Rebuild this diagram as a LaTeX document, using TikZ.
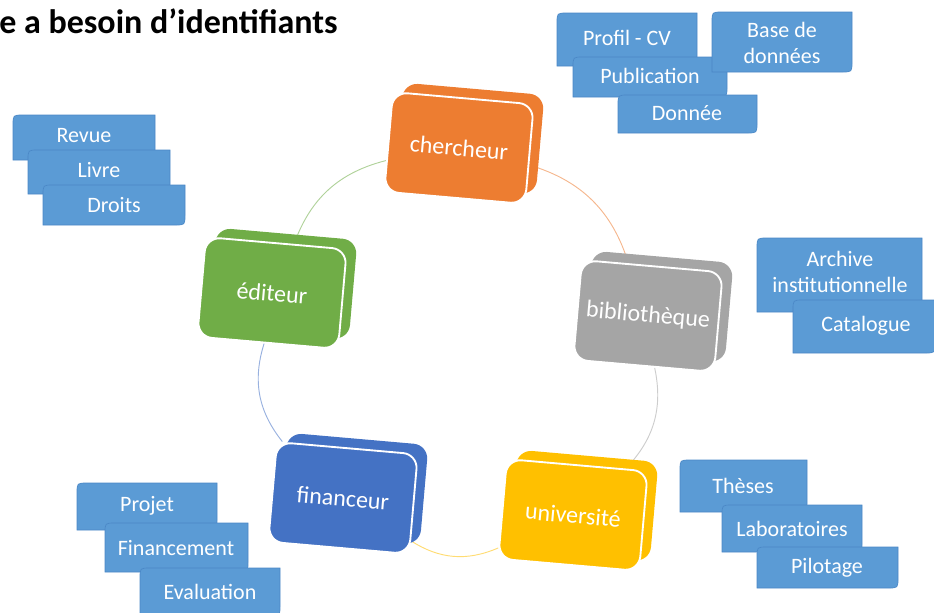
\documentclass[tikz,border=0pt]{standalone}
\usepackage{fontspec}
\setmainfont{Carlito}
\usetikzlibrary{shadows,backgrounds}
\definecolor{cOrange}{HTML}{ED7D31}
\definecolor{cGray}{HTML}{A5A5A5}
\definecolor{cGold}{HTML}{FFC000}
\definecolor{cBlue}{HTML}{4472C4}
\definecolor{cGreen}{HTML}{70AD47}
\definecolor{cLbl}{HTML}{5B9BD5}
\definecolor{cLblEdge}{HTML}{4A87C6}
\begin{document}
\begin{tikzpicture}[x=0.75pt,y=-0.75pt,
  mainbox/.style={rectangle, rounded corners=11pt, fill=#1, draw=white, line width=1.4pt,
    minimum width=106pt, minimum height=75pt, inner sep=0pt, rotate=-5, text=white,
    font=\fontsize{18}{20}\selectfont,
    copy shadow={shadow xshift=8pt, shadow yshift=7pt, fill=#1, draw=none}},
  ring/.style={line width=0.7pt, draw=#1!55, bend left=28},
  lblshape/.style={fill=cLbl, draw=cLblEdge, line width=0.5pt},
  lbltext/.style={text=white, font=\fontsize{16.5}{19}\selectfont, align=center, inner sep=0pt}
]
\useasboundingbox (0,0) rectangle (934,612);
\clip (0,0) rectangle (934,612);

\node[anchor=base west, inner sep=0pt, font=\bfseries\fontsize{25.5}{28}\selectfont] (title) at (-1,33) {e a besoin d’identifiants};

% main boxes
\node[mainbox=cOrange] (chercheur) at (459,148) {chercheur};
\node[mainbox=cGray] (biblio) at (648,316) {bibliothèque};
\node[mainbox=cGold] (univ) at (573,515) {université};
\node[mainbox=cBlue] (financeur) at (343,498) {financeur};
\node[mainbox=cGreen] (editeur) at (272,293) {éditeur};

% ring connectors
\begin{scope}[on background layer]
  \draw[ring=cOrange] (chercheur) to (biblio);
  \draw[ring=cGray] (biblio) to (univ);
  \draw[ring=cGold] (univ) to (financeur);
  \draw[ring=cBlue] (financeur) to (editeur);
  \draw[ring=cGreen] (editeur) to (chercheur);
\end{scope}

% labels
\foreach \nm/\xa/\ya/\xb/\yb/\tx/\ty/\t in {
  revue/13/115/155/160/84/136/Revue,
  livre/28/150/170/194/99/170/Livre,
  droits/43/185/185/225/114/205/Droits,
  profil/557/13/697/66/627/38/Profil - CV,
  publication/573/57/727/97/650/76/Publication,
  donnee/618/95/757/133/687/113/Donnée,
  base/712/12/852/72/782/43/{Base de\\données},
  archive/757/238/922/312/840/272/{Archive\\institutionnelle},
  catalogue/793/300/935/353/866/326/Catalogue,
  projet/77/483/217/530/147/506/Projet,
  financement/105/523/248/572/176/548/Financement,
  evaluation/140/568/280/616/210/592/Evaluation,
  theses/680/460/807/512/743/486/Thèses,
  labo/722/505/862/552/792/529/Laboratoires,
  pilotage/757/547/898/588/827/568/Pilotage}
{
  \path[lblshape] (\xa,\yb) -- (\xa,\ya+10) .. controls (\xa,\ya) .. (\xa+10,\ya)
    -- (\xb,\ya) -- (\xb,\yb-10) .. controls (\xb,\yb) .. (\xb-10,\yb) -- cycle;
  \node[lbltext] (\nm) at (\tx,\ty) {\t};
}
\end{tikzpicture}
\end{document}
